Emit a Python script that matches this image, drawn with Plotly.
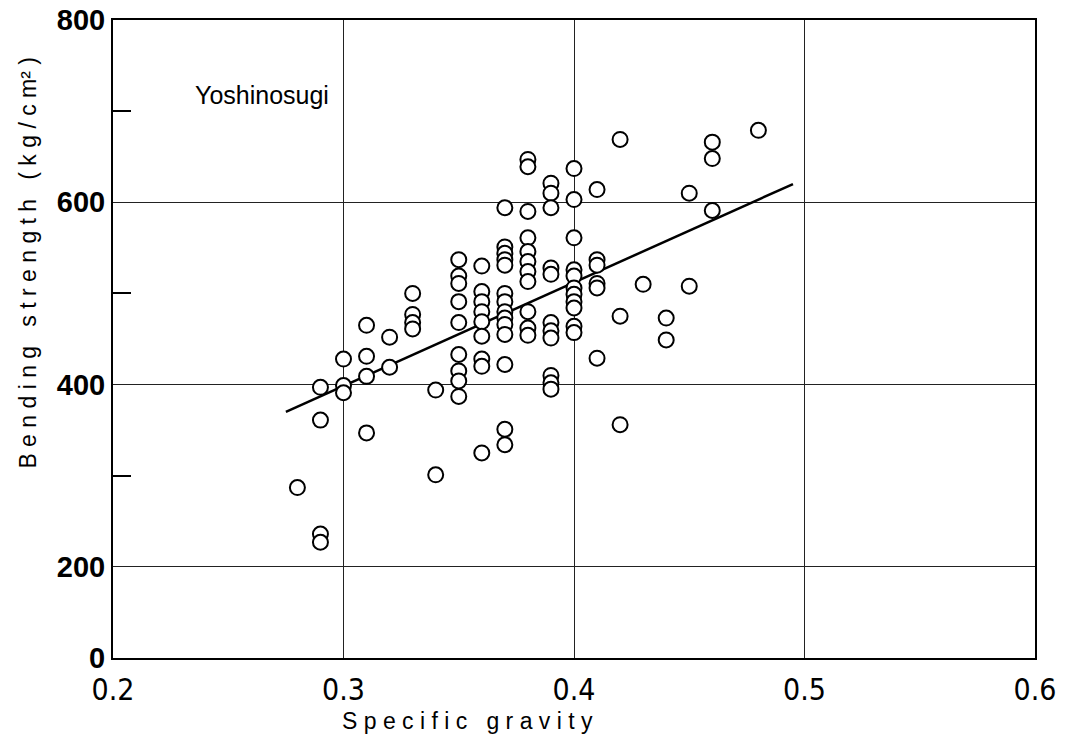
"""Bending strength vs specific gravity for Yoshinosugi (scatter with regression line)."""

import plotly.graph_objects as go

# ---------------------------------------------------------------------------
# Data
# ---------------------------------------------------------------------------
sg_028 = [0.28]
bs_028 = [287]
sg_029 = [0.29] * 4
bs_029 = [397, 361, 236, 227]
sg_030 = [0.30] * 3
bs_030 = [428, 399, 391]
sg_031 = [0.31] * 4
bs_031 = [465, 431, 409, 347]
sg_032 = [0.32] * 2
bs_032 = [452, 419]
sg_033 = [0.33] * 4
bs_033 = [500, 477, 468, 461]
sg_034 = [0.34] * 2
bs_034 = [394, 301]
sg_035 = [0.35] * 9
bs_035 = [537, 519, 511, 491, 468, 433, 415, 404, 387]
sg_036 = [0.36] * 9
bs_036 = [530, 502, 491, 480, 469, 453, 428, 420, 325]
sg_037 = [0.37] * 14
bs_037 = [594, 551, 544, 537, 531, 500, 491, 480, 473, 466, 455, 422, 351, 334]
sg_038 = [0.38] * 11
bs_038 = [647, 639, 590, 561, 546, 535, 524, 513, 480, 462, 454]
sg_039 = [0.39] * 11
bs_039 = [621, 610, 594, 528, 521, 468, 459, 451, 410, 402, 395]
sg_040 = [0.40] * 11
bs_040 = [637, 603, 561, 526, 519, 506, 499, 491, 484, 464, 457]
sg_041 = [0.41] * 6
bs_041 = [614, 537, 531, 511, 506, 429]
sg_042 = [0.42] * 3
bs_042 = [669, 475, 356]
sg_043 = [0.43]
bs_043 = [510]
sg_044 = [0.44] * 2
bs_044 = [473, 449]
sg_045 = [0.45] * 2
bs_045 = [610, 508]
sg_046 = [0.46] * 3
bs_046 = [666, 648, 591]
sg_048 = [0.48]
bs_048 = [679]

# regression line end points
fit_sg = [0.275, 0.495]
fit_bs = [370, 620]

# axis ticks (the y axis is broken: the bottom edge is labelled 0)
x_ticks = [0.2, 0.3, 0.4, 0.5, 0.6]
x_labels = ["0.2", "0.3", "0.4", "0.5", "0.6"]
y_ticks = [100, 200, 400, 600, 800]
y_labels = ["0", "200", "400", "600", "800"]
y_minor = [300, 500, 700]

sg = (sg_028 + sg_029 + sg_030 + sg_031 + sg_032 + sg_033 + sg_034 + sg_035
      + sg_036 + sg_037 + sg_038 + sg_039 + sg_040 + sg_041 + sg_042 + sg_043
      + sg_044 + sg_045 + sg_046 + sg_048)
bs = (bs_028 + bs_029 + bs_030 + bs_031 + bs_032 + bs_033 + bs_034 + bs_035
      + bs_036 + bs_037 + bs_038 + bs_039 + bs_040 + bs_041 + bs_042 + bs_043
      + bs_044 + bs_045 + bs_046 + bs_048)

FONT = "Liberation Sans"
NARROW = "DejaVu Sans Condensed, Liberation Sans"

fig = go.Figure()
fig.add_trace(go.Scatter(
    x=fit_sg, y=fit_bs, mode="lines",
    line=dict(color="black", width=2.5),
    showlegend=False,
))
fig.add_trace(go.Scatter(
    x=sg, y=bs, mode="markers",
    marker=dict(symbol="circle", size=15, color="white",
                line=dict(color="black", width=2)),
    showlegend=False,
))

fig.update_xaxes(
    range=[0.2, 0.6], tickvals=x_ticks, ticktext=x_labels,
    showgrid=True, gridcolor="#222", gridwidth=1,
    showline=True, linecolor="black", linewidth=2, mirror=True,
    ticks="", zeroline=False, ticklabelstandoff=4,
    ticklabeloverflow="allow", automargin=False,
    tickfont=dict(family=NARROW, size=30, color="black"),
)
fig.update_yaxes(
    range=[100, 800], tickvals=y_ticks, ticktext=y_labels,
    showgrid=True, gridcolor="#222", gridwidth=1,
    showline=True, linecolor="black", linewidth=2, mirror=True,
    ticks="", zeroline=False, ticklabeloverflow="allow", automargin=False,
    minor=dict(tickvals=y_minor, ticks="inside", ticklen=18,
               tickcolor="black", tickwidth=1.5, showgrid=False),
    tickfont=dict(family=FONT, size=29, color="black", weight="bold"),
)

fig.add_annotation(
    text="S p e c i f i c   g r a v i t y", xref="paper", yref="paper",
    x=0.385, y=-0.098, xanchor="center", yanchor="middle", showarrow=False,
    font=dict(family=FONT, size=23, color="black"),
)
fig.add_annotation(
    text="B e n d i n g   s t r e n g t h   ( k g / c m² )", xref="paper", yref="paper",
    x=-0.092, y=0.62, xanchor="center", yanchor="middle", showarrow=False,
    textangle=-90, font=dict(family=FONT, size=23, color="black"),
)
fig.add_annotation(
    text="Yoshinosugi", xref="paper", yref="paper",
    x=0.087, y=0.882, xanchor="left", yanchor="middle", showarrow=False,
    font=dict(family=FONT, size=25, color="black"),
)

# the page body carries the browser's default 8px margin, so the figure
# margins are trimmed by that amount to keep the plot frame in place
fig.update_layout(
    width=1066, height=735,
    margin=dict(l=105, r=39, t=12, b=85),
    paper_bgcolor="white", plot_bgcolor="white",
)

fig.write_html("out.html")
